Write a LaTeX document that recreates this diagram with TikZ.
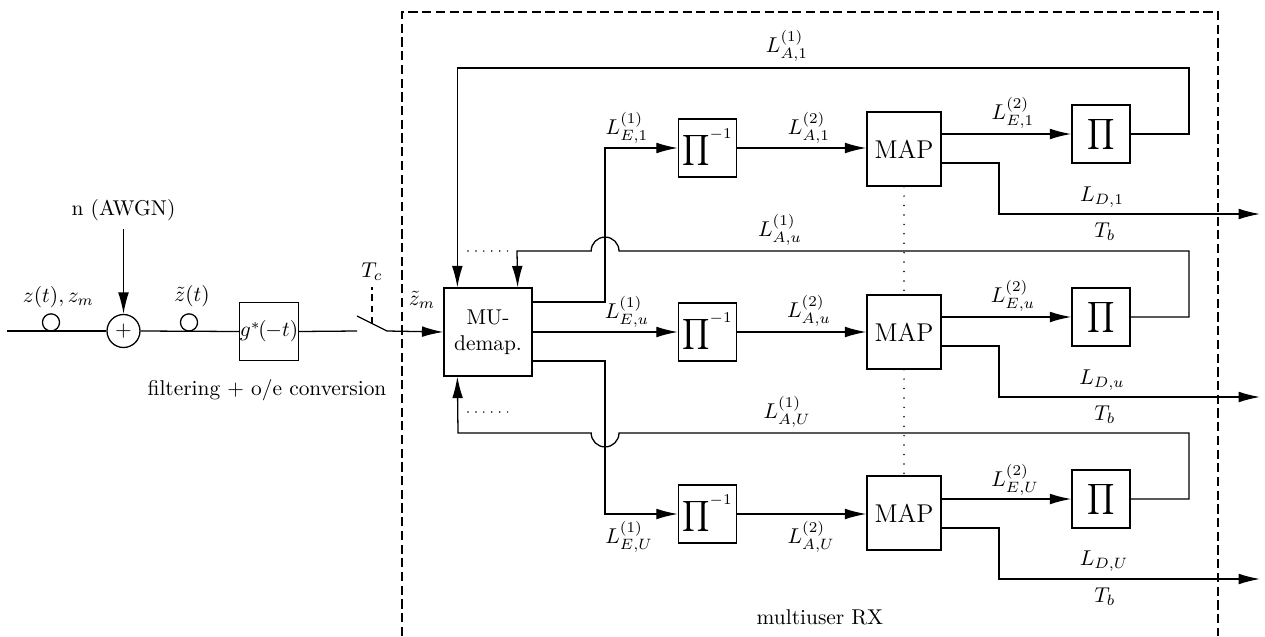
\documentclass[tikz,border=0pt]{standalone}
\usetikzlibrary{arrows.meta,calc}
\begin{document}
\begin{tikzpicture}[x=0.467pt,y=-0.467pt, line width=0.6pt,
  blk/.style={draw, rectangle, inner sep=0pt, minimum width=27.2pt, minimum height=27.2pt},
  mapbox/.style={blk, minimum width=34.6pt, minimum height=34.6pt, font=\large},
  mubox/.style={blk, minimum width=41.1pt, minimum height=41.1pt, align=center},
  arr/.style={-{Latex[length=10pt,width=5pt]}},
  lbl/.style={inner sep=0pt},
  smallc/.style={draw, circle, minimum size=8pt, inner sep=0pt},
  sumc/.style={draw, circle, minimum size=15.4pt, inner sep=0pt},
  rxframe/.style={dash pattern=on 4.3pt off 2.1pt},
  dots/.style={line cap=round, dash pattern=on 0pt off 3.7pt, line width=0.8pt}]
\useasboundingbox (0,0) rectangle (1265,636);

% dashed receiver frame
\draw[rxframe] (402,636) -- (402,12) -- (1218,12) -- (1218,636);
\node[lbl] (rxl) at (820,617) {multiuser RX};

% front end
\coordinate (in) at (7,331);
\node[smallc] (c1) at (51,322.4) {};
\node[sumc] (sum) at (123.5,331) {$+$};
\node[smallc] (c2) at (189,322.4) {};
\node[blk] (g) at (269,331.5) {$g^*\mkern-2mu(\mkern-1mu-t)$};
\coordinate (noise) at (123.5,229);
\node[lbl] (nl) at (123.5,210) {n (AWGN)};
\node[lbl] (zl) at (58.5,297) {$z(t), z_m$};
\node[lbl] (ztl) at (192,296) {$\tilde z(t)$};
\node[lbl] (fl) at (267,390) {filtering + o/e conversion};

\draw (in) -- (sum.west);
\draw[arr] (noise) -- (sum.north);
\draw (sum.east) -- (g.west);

% sampling switch
\coordinate (swA) at (357,331);
\coordinate (swL) at (357,316);
\coordinate (swR) at (387,331);
\coordinate (swM) at (372,323.5);
\coordinate (swT) at (372,287);
\draw (g.east) -- (swA);
\draw (swL) -- (swR);
\draw[dash pattern=on 3.2pt off 2pt] (swM) -- (swT);
\node[lbl] (tcl) at (372,272) {$T_c$};
\node[lbl] (zml) at (422,300) {$\tilde z_m$};

% MU demapper
\node[mubox] (mu) at (488,332) {MU-\\demap.};
\draw[arr] (swR) -- (mu.west);

% rows
\node[blk] (pi1) at (707.5,148) {$\displaystyle\prod\nolimits^{-1}$};
\node[blk] (pi2) at (707.5,332) {$\displaystyle\prod\nolimits^{-1}$};
\node[blk] (pi3) at (707.5,514) {$\displaystyle\prod\nolimits^{-1}$};
\node[mapbox] (map1) at (904,149) {MAP};
\node[mapbox] (map2) at (904,332) {MAP};
\node[mapbox] (map3) at (904,513) {MAP};
\node[blk] (p1) at (1101,134) {$\displaystyle\prod$};
\node[blk] (p2) at (1101,317) {$\displaystyle\prod$};
\node[blk] (p3) at (1101,499) {$\displaystyle\prod$};

\coordinate (split) at (605,0);
\coordinate (turn) at (999,0);
\coordinate (muTL) at ($(mu.north west)+(14,0)$);
\coordinate (muTR) at ($(mu.north east)+(-15,0)$);
\coordinate (muBL) at ($(mu.south west)+(14,0)$);

% demapper outputs
\draw[arr] ($(mu.east)+(0,-30)$) -| (pi1.west -| split) -- (pi1.west);
\draw[arr] (mu.east) -- (pi2.west);
\draw[arr] ($(mu.east)+(0,29)$) -| (pi3.west -| split) -- (pi3.west);

% deinterleaver -> MAP
\draw[arr] (pi1.east) -- (pi1.east -| map1.west);
\draw[arr] (pi2.east) -- (pi2.east -| map2.west);
\draw[arr] (pi3.east) -- (pi3.east -| map3.west);

% MAP -> interleaver
\draw[arr] (p1.west -| map1.east) -- (p1.west);
\draw[arr] (p2.west -| map2.east) -- (p2.west);
\draw[arr] (p3.west -| map3.east) -- (p3.west);

% decisions
\coordinate (d1) at (1260,214);
\coordinate (d2) at (1260,397);
\coordinate (d3) at (1260,579);
\draw[arr] ($(map1.east)+(0,14)$) -| (d1 -| turn) -- (d1);
\draw[arr] ($(map2.east)+(0,14)$) -| (d2 -| turn) -- (d2);
\draw[arr] ($(map3.east)+(0,15)$) -| (d3 -| turn) -- (d3);

% feedback 1
\coordinate (f1) at (1189,68);
\draw[arr] (p1.east) -| (f1) -| (muTL);
% feedback 2 (with hop over)
\coordinate (f2) at (1189,251);
\coordinate (h2) at (619,251);
\coordinate (g2) at (517,251);
\draw[arr] (p2.east) -| (f2) -- (h2) arc[start angle=0, end angle=180, radius=6.5pt] -- (g2) -- (muTR);
% feedback 3 (with hop under)
\coordinate (f3) at (1189,433);
\coordinate (h3) at (619,433);
\coordinate (g3) at (458,433);
\draw[arr] (p3.east) -| (f3) -- (h3) arc[start angle=0, end angle=-180, radius=6.5pt] -- (g3) -- (muBL);

% dots
\coordinate (da1) at (468,251); \coordinate (db1) at (510,251);
\coordinate (da2) at (468,412); \coordinate (db2) at (510,412);
\draw[dots] (da1) -- (db1);
\draw[dots] (da2) -- (db2);
\draw[dots, dash pattern=on 0pt off 4.4pt] (map1.south) -- (map2.north);
\draw[dots, dash pattern=on 0pt off 4.4pt] (map2.south) -- (map3.north);

% labels
\node[lbl] (la11) at (787,46) {$L^{(1)}_{A,1}$};
\node[lbl] (le11) at (627,128) {$L^{(1)}_{E,1}$};
\node[lbl] (la21) at (809,128) {$L^{(2)}_{A,1}$};
\node[lbl] (le21) at (1013,113) {$L^{(2)}_{E,1}$};
\node[lbl] (ld1) at (1102,197) {$L_{D,1}$};
\node[lbl] (tb1) at (1105,232) {$T_b$};

\node[lbl] (la1u) at (780,230) {$L^{(1)}_{A,u}$};
\node[lbl] (le1u) at (627,312) {$L^{(1)}_{E,u}$};
\node[lbl] (la2u) at (809,311) {$L^{(2)}_{A,u}$};
\node[lbl] (le2u) at (1013,296) {$L^{(2)}_{E,u}$};
\node[lbl] (ldu) at (1102,380) {$L_{D,u}$};
\node[lbl] (tbu) at (1105,415) {$T_b$};

\node[lbl] (la1U) at (787,412) {$L^{(1)}_{A,U}$};
\node[lbl] (le1U) at (629,537) {$L^{(1)}_{E,U}$};
\node[lbl] (la2U) at (811,537) {$L^{(2)}_{A,U}$};
\node[lbl] (le2U) at (1015,480) {$L^{(2)}_{E,U}$};
\node[lbl] (ldU) at (1104,561) {$L_{D,U}$};
\node[lbl] (tbU) at (1105,597) {$T_b$};
\end{tikzpicture}
\end{document}
